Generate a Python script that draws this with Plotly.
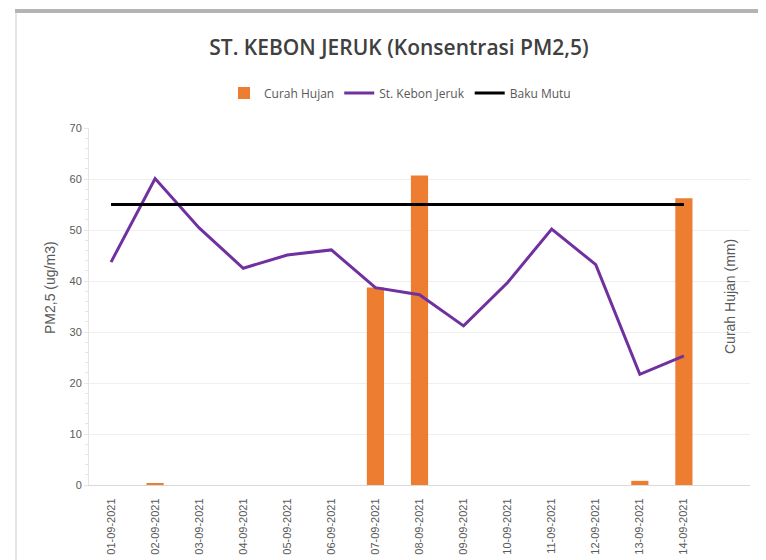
import plotly.graph_objects as go

# data
tanggal = ["01-09-2021", "02-09-2021", "03-09-2021", "04-09-2021", "05-09-2021",
           "06-09-2021", "07-09-2021", "08-09-2021", "09-09-2021", "10-09-2021",
           "11-09-2021", "12-09-2021", "13-09-2021", "14-09-2021"]
curah_hujan = [0, 0.15, 0, 0, 0, 0, 16.6, 26.0, 0, 0, 0, 0, 0.35, 24.1]
pm25 = [43.7, 60.1, 50.4, 42.5, 45.1, 46.1, 38.7, 37.3, 31.2, 39.7, 50.2, 43.2, 21.7, 25.3]
baku_mutu = [55] * len(tanggal)

GRAY = "#595959"
W, H = 758, 552  # page body has an 8px margin, so this fills the window

fig = go.Figure()

# rain bars on the primary axis (right side) so the lines sit above them
fig.add_trace(go.Bar(
    x=tanggal, y=curah_hujan, name="Curah Hujan",
    marker=dict(color="#ED7D31", line=dict(width=0)),
    width=0.39, yaxis="y",
))
fig.add_trace(go.Scatter(
    x=tanggal, y=pm25, name="St. Kebon Jeruk", mode="lines",
    line=dict(color="#7030A0", width=3), yaxis="y2",
))
fig.add_trace(go.Scatter(
    x=tanggal, y=baku_mutu, name="Baku Mutu", mode="lines",
    line=dict(color="#000000", width=3), yaxis="y2",
))

fig.update_layout(
    width=W, height=H,
    margin=dict(l=81, r=16, t=120, b=75, autoexpand=False),
    paper_bgcolor="white", plot_bgcolor="white",
    font=dict(family="Liberation Sans, Arial", color=GRAY, size=11),
    title=dict(
        text="ST. KEBON JERUK (Konsentrasi PM2,5)",
        x=391 / W, xanchor="center", y=1 - 40 / H, yanchor="middle",
        font=dict(family="Open Sans", size=21, color="#404040", weight=600),
    ),
    legend=dict(
        orientation="h", xref="container", x=392 / W, xanchor="center",
        yref="container", y=1 - 85 / H, yanchor="middle",
        font=dict(family="Open Sans", size=12, color=GRAY),
        traceorder="normal", itemwidth=30,
    ),
    xaxis=dict(
        type="category", range=[-0.5, 14.5], automargin=False,
        showgrid=False, showline=True, linecolor="#d9d9d9", linewidth=1,
        tickangle=-90, ticks="", ticklabelstandoff=8,
        tickfont=dict(size=11, color=GRAY),
    ),
    yaxis=dict(
        side="right", range=[0, 30], dtick=5, showgrid=False, zeroline=False,
        showline=False, ticks="", ticklabelstandoff=8, automargin=False,
        tickfont=dict(size=11, color=GRAY),
    ),
    yaxis2=dict(
        overlaying="y", side="left", range=[0, 70], dtick=10, automargin=False,
        showgrid=True, gridcolor="#efefef", zeroline=False,
        showline=True, linecolor="#e6e6e6",
        ticks="outside", ticklen=4, tickcolor="#e6e6e6",
        minor=dict(dtick=2, ticks="outside", ticklen=3, tickcolor="#e6e6e6", showgrid=False),
        tickfont=dict(size=11, color=GRAY),
    ),
    annotations=[
        dict(text="PM2,5 (ug/m3)", xref="paper", yref="paper",
             x=(50 - 89) / 661, y=(485 - 288) / 357, textangle=-90,
             showarrow=False, xanchor="center", yanchor="middle",
             font=dict(size=14, color=GRAY)),
        dict(text="Curah Hujan (mm)", xref="paper", yref="paper",
             x=(730 - 89) / 661, y=(485 - 297) / 357, textangle=-90,
             showarrow=False, xanchor="center", yanchor="middle",
             font=dict(size=14, color=GRAY)),
    ],
    shapes=[
        # frame of the original chart box
        dict(type="line", xref="paper", yref="paper",
             x0=(15 - 89) / 661, x1=(780 - 89) / 661,
             y0=(485 - 11) / 357, y1=(485 - 11) / 357,
             line=dict(color="#b4b4b4", width=4)),
        dict(type="line", xref="paper", yref="paper",
             x0=(16 - 89) / 661, x1=(16 - 89) / 661,
             y0=(485 - 13) / 357, y1=(485 - 600) / 357,
             line=dict(color="#dcdcdc", width=1.5)),
    ],
)

fig.write_html("out.html")
